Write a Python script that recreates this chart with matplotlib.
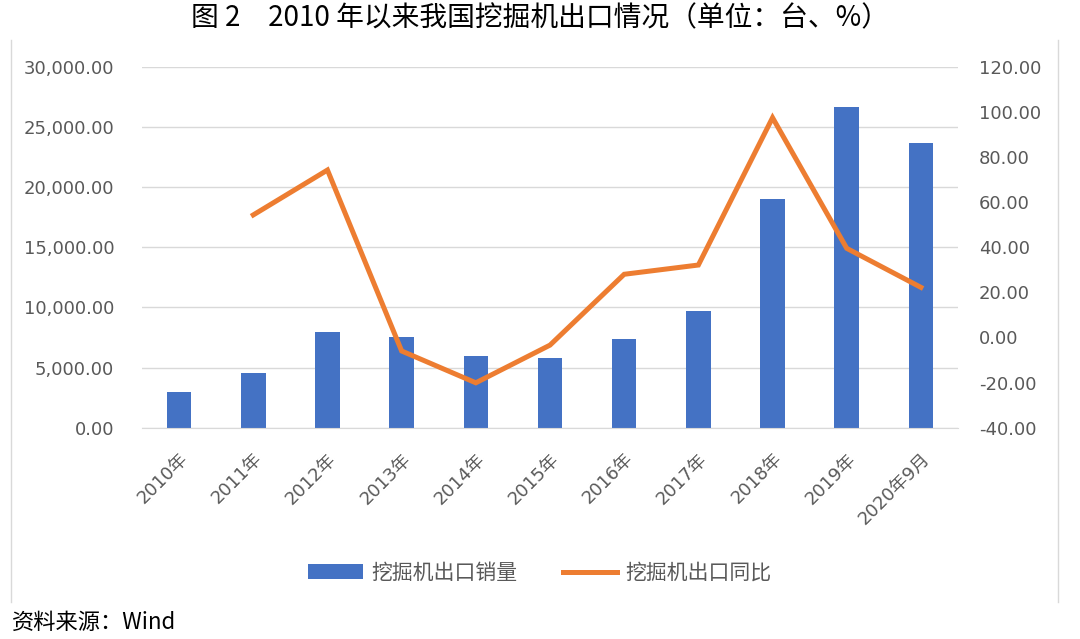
import matplotlib.pyplot as plt
import numpy as np

plt.rcParams['font.family'] = ['DejaVu Sans', 'Noto Sans CJK SC']

# data
years = ['2010年', '2011年', '2012年', '2013年', '2014年', '2015年',
         '2016年', '2017年', '2018年', '2019年', '2020年9月']
export_units = [3000, 4580, 7970, 7500, 5970, 5780, 7330, 9700, 19030, 26670, 23700]
export_yoy = [np.nan, 54.3, 74.2, -6.0, -20.1, -3.4, 28.0, 32.1, 97.4, 39.5, 22.2]

blue = '#4472C4'
orange = '#ED7D31'
grey = '#595959'

fig = plt.figure(figsize=(10.8, 6.39), dpi=100)
ax = fig.add_axes([142 / 1080, 1 - 427.7 / 639, (958 - 142) / 1080, (427.7 - 66.7) / 639])
ax2 = ax.twinx()

x = np.arange(len(years))
bars = ax.bar(x, export_units, width=0.33, color=blue, zorder=2, label='挖掘机出口销量')
line, = ax2.plot(x, export_yoy, color=orange, lw=3.6, solid_joinstyle='miter',
                 label='挖掘机出口同比', zorder=3)

ax.set_xlim(-0.5, len(years) - 0.5)
ax.set_ylim(0, 30000)
ax.set_yticks(np.arange(0, 30001, 5000))
ax.set_yticklabels([f'{v:,.2f}' for v in np.arange(0, 30001, 5000)])
ax2.set_ylim(-40, 120)
ax2.set_yticks(np.arange(-40, 121, 20))
ax2.set_yticklabels([f'{v:.2f}' for v in np.arange(-40, 121, 20)])

ax.set_xticks(x)
ax.set_xticklabels(years, rotation=45, ha='right', rotation_mode='anchor')

ax.grid(axis='y', color='#d9d9d9', lw=1, zorder=0)
for a in (ax, ax2):
    for s in a.spines.values():
        s.set_visible(False)
ax.spines['bottom'].set_visible(True)
ax.spines['bottom'].set_color('#d9d9d9')
ax.tick_params(axis='y', length=0, labelsize=13, labelcolor=grey, pad=20)
ax.tick_params(axis='x', length=0, labelsize=13, labelcolor=grey, pad=16)
ax2.tick_params(axis='y', length=0, labelsize=13, labelcolor=grey, pad=15)

fig.legend(handles=[bars, line], loc='center', bbox_to_anchor=(0.5, 1 - 573 / 639),
           ncol=2, frameon=False, fontsize=15, labelcolor=grey,
           handlelength=2.6, columnspacing=2.2, handletextpad=0.4)

# faint frame of the chart box
for xf in (11 / 1080, 1058 / 1080):
    fig.add_artist(plt.Line2D([xf, xf], [1 - 40 / 639, 1 - 602 / 639],
                              color='#d9d9d9', lw=1, transform=fig.transFigure))

fig.text(0.5, 1 - 18 / 639, '图 2　2010 年以来我国挖掘机出口情况（单位：台、%）',
         ha='center', va='center', fontsize=20, family=['Noto Sans CJK SC', 'DejaVu Sans'])
fig.text(12 / 1080, 1 - 622 / 639, '资料来源：Wind', ha='left', va='center',
         fontsize=16, family=['Noto Sans CJK SC', 'DejaVu Sans'])

fig.savefig('out.png', dpi=100)
